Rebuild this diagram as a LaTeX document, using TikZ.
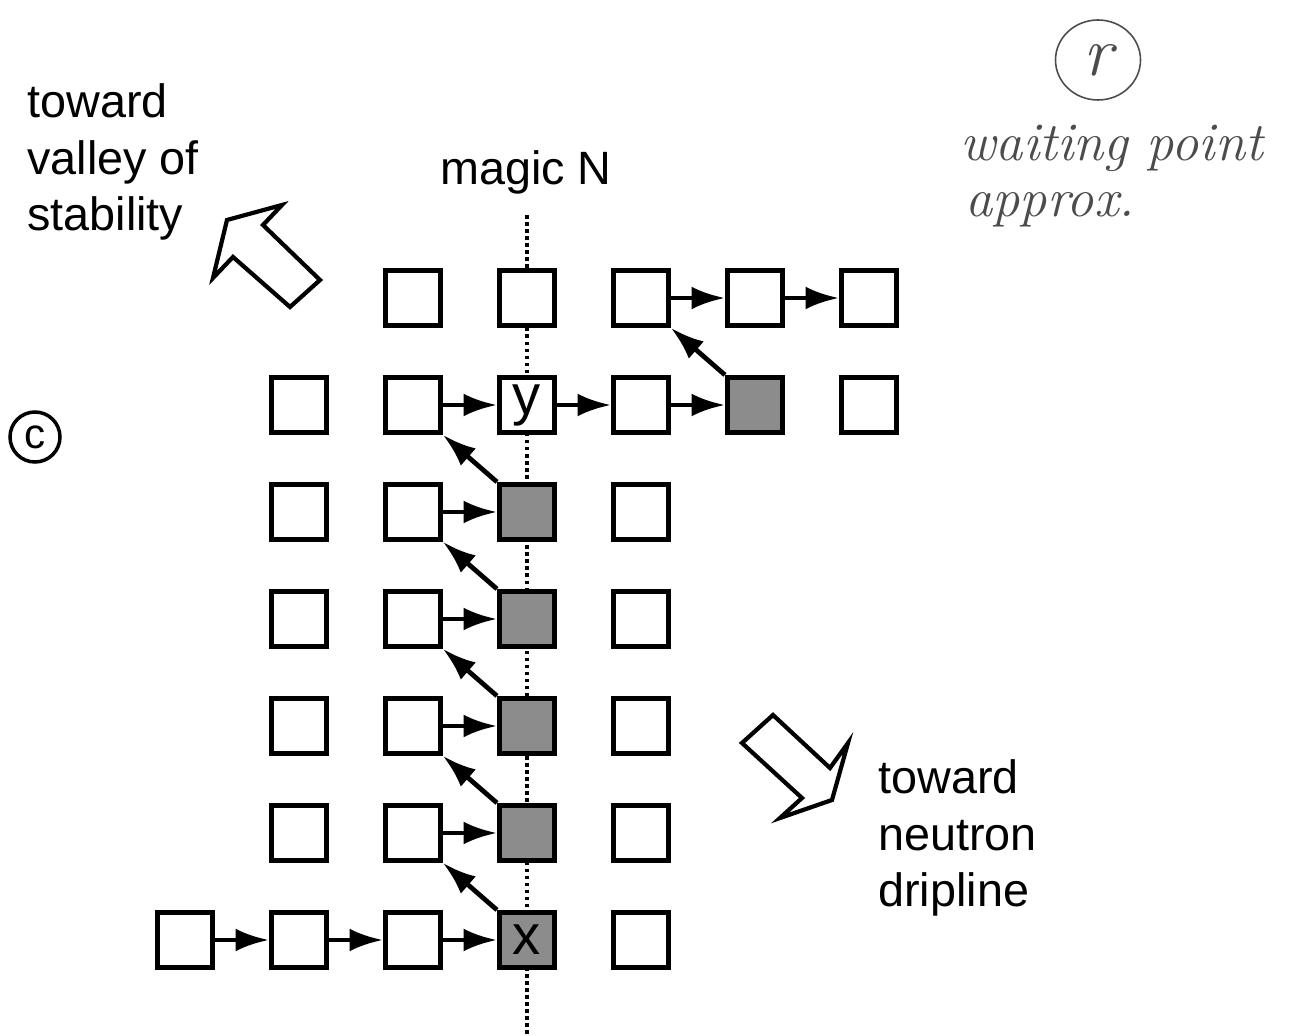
\documentclass[tikz,border=0pt]{standalone}
\usepackage{fontspec}
\setsansfont{Liberation Sans}
\usetikzlibrary{arrows.meta,shapes.geometric}

\tikzset{
	box/.style={draw,rectangle,fill=white,line width=2.9pt,inner sep=0,minimum size=1.1cm,font=\sffamily\fontsize{32}{36}\selectfont},
	greybox/.style={box,fill=black!45},
	hop/.style={line width=2.7pt,-{Latex[length=19pt,width=13pt]}},
	fatarrow/.style={line width=2.4pt,line join=miter,fill=white},
	label/.style={align=left,anchor=west,inner sep=0,font=\sffamily\fontsize{26.6}{32.3}\selectfont},
	hand/.style={text=black!70,inner sep=0,font=\itshape\fontsize{31}{36}\selectfont},
}

\begin{document}
\begin{tikzpicture}
	\useasboundingbox (0,0) rectangle (26,20.72);
	\coordinate (ntop) at (10.54,16.42);
	\coordinate (nbot) at (10.54,0);
	\draw[line width=2.2pt,dash pattern=on 2pt off 2pt] (ntop) -- (nbot);
	\node[inner sep=0,font=\sffamily\fontsize{26.6}{32}\selectfont] (magic) at (10.52,17.28) {magic N};
	\node[box] (c7) at (8.26,14.76) {};
	\node[box] (d7) at (10.54,14.76) {};
	\node[box] (e7) at (12.82,14.76) {};
	\node[box] (f7) at (15.10,14.76) {};
	\node[box] (g7) at (17.38,14.76) {};
	\node[box] (b6) at (5.98,12.62) {};
	\node[box] (c6) at (8.26,12.62) {};
	\node[box] (d6) at (10.54,12.62) {y};
	\node[box] (e6) at (12.82,12.62) {};
	\node[greybox] (f6) at (15.10,12.62) {};
	\node[box] (g6) at (17.38,12.62) {};
	\node[box] (b5) at (5.98,10.48) {};
	\node[box] (c5) at (8.26,10.48) {};
	\node[greybox] (d5) at (10.54,10.48) {};
	\node[box] (e5) at (12.82,10.48) {};
	\node[box] (b4) at (5.98,8.34) {};
	\node[box] (c4) at (8.26,8.34) {};
	\node[greybox] (d4) at (10.54,8.34) {};
	\node[box] (e4) at (12.82,8.34) {};
	\node[box] (b3) at (5.98,6.20) {};
	\node[box] (c3) at (8.26,6.20) {};
	\node[greybox] (d3) at (10.54,6.20) {};
	\node[box] (e3) at (12.82,6.20) {};
	\node[box] (b2) at (5.98,4.06) {};
	\node[box] (c2) at (8.26,4.06) {};
	\node[greybox] (d2) at (10.54,4.06) {};
	\node[box] (e2) at (12.82,4.06) {};
	\node[box] (a1) at (3.70,1.92) {};
	\node[box] (b1) at (5.98,1.92) {};
	\node[box] (c1) at (8.26,1.92) {};
	\node[greybox] (d1) at (10.54,1.92) {x};
	\node[box] (e1) at (12.82,1.92) {};
	\draw[hop] (e7) -- (f7);
	\draw[hop] (f7) -- (g7);
	\draw[hop] (f6.north west) -- (e7.south east);
	\draw[hop] (c6) -- (d6);
	\draw[hop] (d6) -- (e6);
	\draw[hop] (e6) -- (f6);
	\draw[hop] (d5.north west) -- (c6.south east);
	\draw[hop] (c5) -- (d5);
	\draw[hop] (d4.north west) -- (c5.south east);
	\draw[hop] (c4) -- (d4);
	\draw[hop] (d3.north west) -- (c4.south east);
	\draw[hop] (c3) -- (d3);
	\draw[hop] (d2.north west) -- (c3.south east);
	\draw[hop] (c2) -- (d2);
	\draw[hop] (d1.north west) -- (c2.south east);
	\draw[hop] (a1) -- (b1);
	\draw[hop] (b1) -- (c1);
	\draw[hop] (c1) -- (d1);
	\draw[fatarrow] (4.54,16.32) -- (5.64,16.62) -- (5.26,16.22) -- (6.40,15.12) -- (5.80,14.58) -- (4.66,15.58) -- (4.26,15.16) -- cycle;
	\draw[fatarrow] (14.84,5.86) -- (15.46,6.42) -- (16.60,5.36) -- (16.96,5.86) -- (16.64,4.72) -- (15.60,4.36) -- (16.04,4.76) -- cycle;
	\node[label] (valley) at (0.54,17.48) {toward\\valley of\\stability};
	\node[label] (drip) at (17.56,3.96) {toward\\neutron\\dripline};
	\node[draw,circle,line width=2pt,minimum size=1.0cm,inner sep=0,font=\sffamily\fontsize{24}{28}\selectfont] (tagc) at (0.70,11.98) {c};
	\node[draw=black!70,ellipse,line width=0.9pt,minimum width=1.7cm,minimum height=1.6cm,inner sep=0,hand,font=\itshape\fontsize{40}{44}\selectfont] (tagr) at (21.96,19.52) {r};
	\node[hand,anchor=west] (wait) at (19.2,17.76) {waiting point};
	\node[hand,anchor=west] (approx) at (19.3,16.52) {approx.};
\end{tikzpicture}
\end{document}
